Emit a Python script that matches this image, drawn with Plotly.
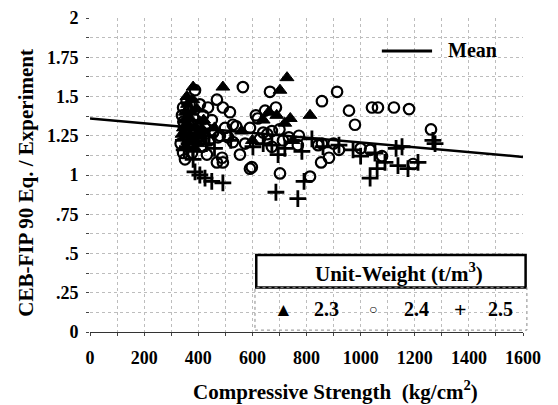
import plotly.graph_objects as go

# ---- data ----
tri_x = [381, 491, 728, 702, 360, 375, 350, 390, 420, 365, 400, 355, 380, 640, 660, 740, 813, 690, 720, 460,
         600, 560, 750, 420, 345, 370, 395, 410, 352, 385, 340, 362, 388, 405, 358]
tri_y = [1.56, 1.56, 1.62, 1.54, 1.45, 1.40, 1.35, 1.30, 1.28, 1.25, 1.20, 1.18, 1.48, 1.35, 1.40, 1.36, 1.38, 1.38, 1.33, 1.30,
         1.22, 1.28, 1.22, 1.35, 1.30, 1.36, 1.42, 1.25, 1.40, 1.22, 1.26, 1.32, 1.17, 1.34, 1.50]

cir_x = [565, 665, 913, 857, 957, 1042, 1064, 979, 687, 647, 613, 517, 491, 469, 436, 388, 357, 344, 406, 418,
         450, 528, 499, 591, 672, 772, 713, 628, 573, 528, 473, 399, 344, 377, 351, 432, 488, 469, 491, 554,
         591, 702, 813, 854, 883, 920, 857, 672, 768, 1123, 1179, 1260, 1035, 1079, 1194, 843, 598, 340, 362, 395,
         415, 440, 350, 372, 455, 480, 510, 540, 620, 655, 700, 735, 900, 1000, 640, 345, 368, 392, 425, 335]
cir_y = [1.56, 1.53, 1.53, 1.47, 1.41, 1.43, 1.43, 1.32, 1.43, 1.41, 1.38, 1.40, 1.43, 1.48, 1.43, 1.54, 1.47, 1.43, 1.45, 1.38,
         1.35, 1.32, 1.30, 1.30, 1.28, 1.25, 1.22, 1.23, 1.20, 1.21, 1.24, 1.24, 1.14, 1.14, 1.10, 1.13, 1.11, 1.08, 1.08, 1.13,
         1.04, 1.01, 0.99, 1.08, 1.11, 1.16, 1.20, 1.18, 1.19, 1.43, 1.42, 1.29, 1.16, 1.12, 1.07, 1.19, 1.05, 1.38, 1.33, 1.28,
         1.18, 1.22, 1.26, 1.20, 1.27, 1.25, 1.24, 1.31, 1.36, 1.26, 1.29, 1.24, 1.20, 1.17, 1.27, 1.34, 1.29, 1.22, 1.30, 1.20]

crs_x = [388, 406, 425, 450, 491, 687, 768, 791, 1035, 695, 672, 602, 381, 783, 861, 972, 1053, 1061, 1090, 1138,
         1175, 1212, 1153, 1131, 1267, 1275, 345, 360, 380, 400, 430, 460, 355, 372, 415, 520, 640, 720, 820, 920,
         1000, 348, 366, 390, 440]
crs_y = [1.02, 1.00, 0.98, 0.96, 0.95, 0.89, 0.85, 0.96, 0.98, 1.13, 1.19, 1.18, 1.10, 1.15, 1.18, 1.16, 1.14, 1.04, 1.08, 1.06,
         1.04, 1.08, 1.18, 1.17, 1.22, 1.20, 1.22, 1.18, 1.15, 1.26, 1.20, 1.17, 1.30, 1.25, 1.28, 1.22, 1.20, 1.17, 1.23, 1.19,
         1.12, 1.16, 1.20, 1.24, 1.25]

mean_x = [0, 1600]
mean_y = [1.36, 1.115]

x_ticks = [0, 200, 400, 600, 800, 1000, 1200, 1400, 1600]
y_ticks = [0, 0.25, 0.5, 0.75, 1, 1.25, 1.5, 1.75, 2]
y_ticktext = ["0", ".25", ".5", ".75", "1", "1.25", "1.5", "1.75", "2"]

legend_title = "Unit-Weight (t/m<sup>3</sup>)"
series_names = ["2.3", "2.4", "2.5"]
series_keys = ["▲", "○", "+"]
mean_name = "Mean"

FONT = "Liberation Serif"
BOLD = dict(family=FONT, color="black", weight="bold")

fig = go.Figure()
fig.add_trace(go.Scatter(x=mean_x, y=mean_y, mode="lines", name=mean_name,
                         line=dict(color="black", width=2.5)))
fig.add_trace(go.Scatter(x=tri_x, y=tri_y, mode="markers", name=series_names[0],
                         marker=dict(symbol="triangle-up", size=12, color="black",
                                     line=dict(color="black", width=1))))
fig.add_trace(go.Scatter(x=cir_x, y=cir_y, mode="markers", name=series_names[1],
                         marker=dict(symbol="circle-open", size=10.5, color="black",
                                     line=dict(color="black", width=2.2))))
fig.add_trace(go.Scatter(x=crs_x, y=crs_y, mode="markers", name=series_names[2],
                         marker=dict(symbol="cross-thin-open", size=12, color="black",
                                     line=dict(color="black", width=2.8))))

grid = dict(showgrid=True, gridcolor="#bdbdbd", griddash="dot", gridwidth=1)

# the page body has an 8px default margin, so the figure is 8px smaller
fig.update_layout(
    width=550, height=397,
    margin=dict(l=82, r=35, t=10, b=73),
    paper_bgcolor="white", plot_bgcolor="white",
    font=dict(family=FONT, color="black", size=14),
    showlegend=False,
    xaxis=dict(range=[0, 1600], tickvals=x_ticks, ticktext=[str(v) for v in x_ticks],
               tickfont=dict(size=18, **BOLD), automargin=False,
               showline=True, linecolor="#333", linewidth=1, ticks="outside", ticklen=3,
               tickcolor="#444", ticklabelstandoff=6, zeroline=False,
               minor=dict(dtick=100, showgrid=True, gridcolor="#bdbdbd", griddash="dot",
                          ticks="outside", ticklen=3, tickcolor="#444"),
               **grid),
    yaxis=dict(range=[0, 2], tickvals=y_ticks, ticktext=y_ticktext,
               tickfont=dict(size=18, **BOLD), automargin=False,
               showline=False, ticks="outside", ticklen=3, tickcolor="#444",
               ticklabelstandoff=4, zeroline=False,
               minor=dict(dtick=0.125, showgrid=True, gridcolor="#bdbdbd", griddash="dot",
                          ticks="outside", ticklen=3, tickcolor="#444"),
               **grid),
)

C = dict(xanchor="center", yanchor="middle", showarrow=False, xref="paper", yref="paper")

# axis titles
fig.add_annotation(x=0.568, y=-0.185, text="Compressive Strength  (kg/cm<sup>2</sup>)",
                   font=dict(size=21, **BOLD), **C)
fig.add_annotation(x=-0.148, y=0.475, textangle=-90, text="CEB-FIP 90 Eq. / Experiment",
                   font=dict(size=21, **BOLD), **C)

# Mean legend
fig.add_shape(type="line", xref="paper", yref="paper", x0=0.674, x1=0.790, y0=0.895, y1=0.895,
              line=dict(color="black", width=3))
fig.add_annotation(x=0.822, y=0.897, text=mean_name, font=dict(size=20, **BOLD),
                   **{**C, "xanchor": "left"})

# Unit-weight legend
fig.add_shape(type="rect", xref="paper", yref="paper", x0=0.384, x1=1.006, y0=0.142, y1=0.245,
              line=dict(color="black", width=2.5), fillcolor="white", layer="above")
fig.add_shape(type="rect", xref="paper", yref="paper", x0=0.381, x1=1.009, y0=0.006, y1=0.142,
              line=dict(color="#888", width=1, dash="dot"), fillcolor="rgba(0,0,0,0)", layer="above")
fig.add_annotation(x=0.714, y=0.19, text=legend_title, font=dict(size=21, **BOLD), **C)
key_x = [0.446, 0.654, 0.855]
lab_x = [0.547, 0.755, 0.947]
key_sizes = [19, 14, 22]
for k, kx, lx, ks, nm in zip(series_keys, key_x, lab_x, key_sizes, series_names):
    fig.add_annotation(x=kx, y=0.072, text=k, font=dict(size=ks, **BOLD), **C)
    fig.add_annotation(x=lx, y=0.072, text=nm, font=dict(size=20, **BOLD), **C)

fig.write_html("out.html")
